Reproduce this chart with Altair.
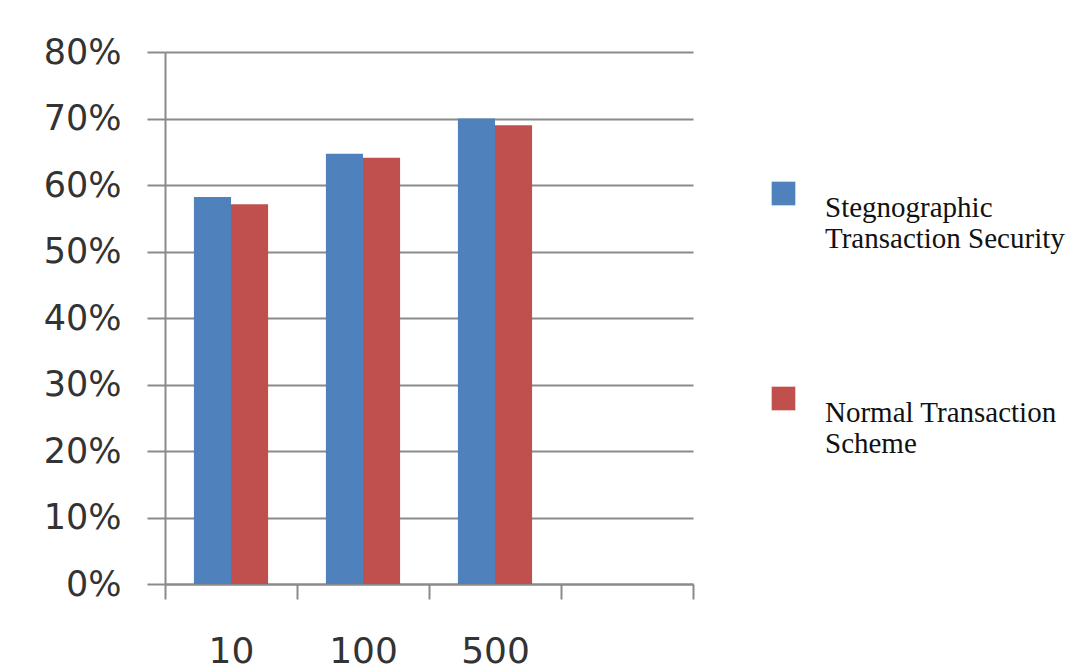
import altair as alt
import pandas as pd

categories = ["10", "100", "500"]
series = ["Stegnographic\nTransaction Security", "Normal Transaction\nScheme"]
steg_values = [0.582, 0.647, 0.700]
normal_values = [0.571, 0.641, 0.690]
x_domain = categories + [""]
y_ticks = [0, 0.1, 0.2, 0.3, 0.4, 0.5, 0.6, 0.7, 0.8]
colors = ["#4F81BD", "#C0504D"]

rows = []
for c, a, b in zip(categories, steg_values, normal_values):
    rows.append({"cat": c, "series": series[0], "value": a})
    rows.append({"cat": c, "series": series[1], "value": b})
df = pd.DataFrame(rows)

GRAY = "#8a8a8a"

chart = alt.Chart(df).mark_bar().encode(
    x=alt.X(
        "cat:N",
        sort=x_domain,
        scale=alt.Scale(domain=x_domain, paddingInner=0, paddingOuter=0),
        axis=alt.Axis(
            title=None, labelAngle=0, tickBand="extent", tickSize=15, tickWidth=2,
            tickColor=GRAY, domainColor=GRAY, domainWidth=2, labelPadding=35,
            labelFont="DejaVu Sans", labelFontSize=36, labelColor="#333333", grid=False,
        ),
    ),
    xOffset=alt.XOffset(
        "series:N", sort=series,
        scale=alt.Scale(domain=series, paddingInner=0, paddingOuter=0.78),
    ),
    y=alt.Y(
        "value:Q",
        scale=alt.Scale(domain=[0, 0.8], nice=False),
        axis=alt.Axis(
            title=None, values=y_ticks, format=".0%", tickSize=18, tickWidth=2,
            tickColor=GRAY, domainColor=GRAY, domainWidth=2, gridColor=GRAY,
            gridWidth=2, gridOpacity=1, labelPadding=26, labelFont="DejaVu Sans",
            labelFontSize=35, labelColor="#333333",
        ),
    ),
    color=alt.Color(
        "series:N",
        sort=series,
        scale=alt.Scale(domain=series, range=colors),
        legend=alt.Legend(
            title=None, orient="none", legendX=604, legendY=127,
            symbolType="square", symbolSize=560, symbolStrokeWidth=0, symbolOpacity=1,
            labelExpr="split(datum.label, '\\n')", labelFont="Liberation Serif",
            labelFontSize=29, labelColor="#111111", labelLimit=400, labelOffset=27,
            labelBaseline="top", rowPadding=130,
        ),
    ),
).properties(
    width=528,
    height=532,
    background="white",
    autosize=alt.AutoSizeParams(type="none"),
    padding={"left": 165, "top": 52, "right": 380, "bottom": 88},
).configure_view(stroke=None, strokeWidth=0)

chart.save("out.html", embed_options={"renderer": "svg", "actions": False})
